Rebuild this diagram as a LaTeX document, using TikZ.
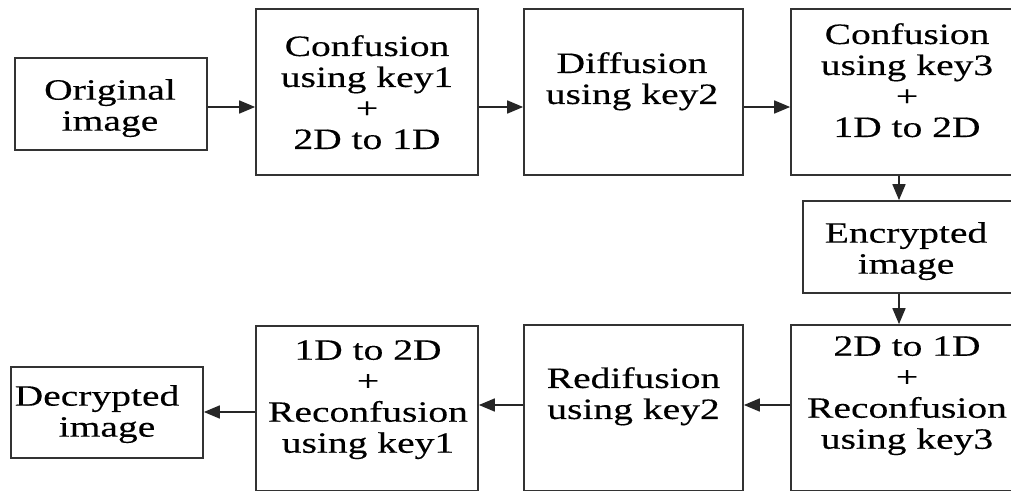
\documentclass[tikz,border=0pt]{standalone}
\usepackage{fontspec}
\setmainfont{Liberation Serif}[FakeStretch=1.34,FakeBold=0.3]
\usetikzlibrary{arrows.meta}
\begin{document}
\begin{tikzpicture}[x=1pt,y=-1pt,
  box/.style={draw=black!80,line width=1.7pt,inner sep=0pt,anchor=center},
  txt/.style={inner sep=0pt,anchor=north,align=center,font=\fontsize{29.5}{31}\selectfont},
  arr/.style={draw=black!85,line width=1.7pt,-{Triangle[length=16pt,width=13pt]}}]
\useasboundingbox (0,0) rectangle (1011,490);
\clip (0,0) rectangle (1011,490);
% boxes
\node[box,minimum width=192pt,minimum height=92pt] (orig) at (111,104) {};
\node[box,minimum width=222pt,minimum height=166pt] (c1) at (367,92) {};
\node[box,minimum width=219pt,minimum height=166pt] (diff) at (633.5,92) {};
\node[box,minimum width=232pt,minimum height=166pt] (c3) at (907,92) {};
\node[box,minimum width=212pt,minimum height=92pt] (enc) at (909,247) {};
\node[box,minimum width=232pt,minimum height=166pt] (r3) at (907,408) {};
\node[box,minimum width=219pt,minimum height=166pt] (redif) at (633.5,408) {};
\node[box,minimum width=222pt,minimum height=165pt] (r1) at (367,408.5) {};
\node[box,minimum width=192pt,minimum height=91pt] (dec) at (107,412.5) {};
% texts
\node[txt] (t-orig) at (110,79) {Original\\image};
\node[txt] (t-c1) at (367,35) {Confusion\\using key1\\+\\2D to 1D};
\node[txt] (t-diff) at (632,52) {Diffusion\\using key2};
\node[txt] (t-c3) at (907,23) {Confusion\\using key3\\+\\1D to 2D};
\node[txt] (t-enc) at (906,222) {Encrypted\\image};
\node[txt] (t-r3) at (907,336) {2D to 1D\\+\\Reconfusion\\using key3};
\node[txt] (t-redif) at (633.5,367) {Redifusion\\using key2};
\node[txt] (t-r1) at (368,340) {1D to 2D\\+\\Reconfusion\\using key1};
\node[txt] (t-dec) at (107,385) {Decrypted\kern20pt\\image};
% helper coordinates for connector heights
\coordinate (top) at (0,107);
\coordinate (bot) at (0,405);
\coordinate (botl) at (0,412);
\coordinate (vx) at (899,0);
% connectors
\draw[arr] (orig.east |- top) -- (c1.west |- top);
\draw[arr] (c1.east |- top) -- (diff.west |- top);
\draw[arr] (diff.east |- top) -- (c3.west |- top);
\draw[arr] (c3.south -| vx) -- (enc.north -| vx);
\draw[arr] (enc.south -| vx) -- (r3.north -| vx);
\draw[arr] (r3.west |- bot) -- (redif.east |- bot);
\draw[arr] (redif.west |- bot) -- (r1.east |- bot);
\draw[arr] (r1.west |- botl) -- (dec.east |- botl);
\end{tikzpicture}
\end{document}
